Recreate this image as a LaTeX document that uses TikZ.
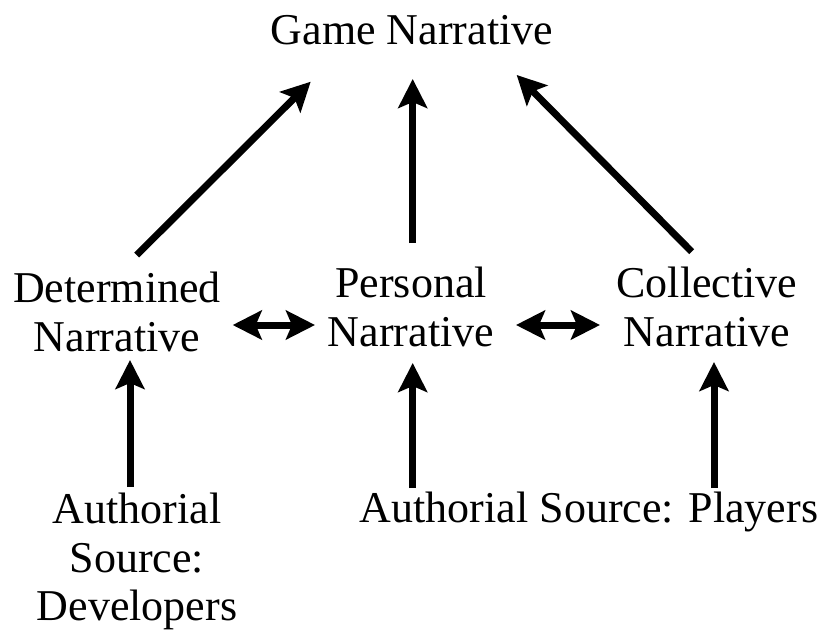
\documentclass[tikz,border=0pt]{standalone}
\usepackage{fontspec}
\setmainfont{Liberation Serif}
\usetikzlibrary{arrows.meta}
\begin{document}
\begin{tikzpicture}[x=1pt,y=-1pt,
  lbl/.style={inner sep=0pt,outer sep=0pt,anchor=north,align=center,font=\fontsize{44}{48.5}\selectfont},
  arr/.style={line width=7pt,-{Stealth[length=29pt,width=29pt,inset=6pt]}},
  darr/.style={line width=7pt,{Stealth[length=29pt,width=29pt,inset=6pt]}-{Stealth[length=29pt,width=29pt,inset=6pt]}}]
\useasboundingbox (0,0) rectangle (823,630);
\node[lbl] (game) at (412,15) {Game Narrative};
\node[lbl] (det) at (117,272) {Determined\\Narrative};
\node[lbl] (per) at (411,267) {Personal\\Narrative};
\node[lbl] (col) at (707,267) {Collective\\Narrative};
\node[lbl] (adev) at (137,493) {Authorial\\Source:\\Developers};
\node[lbl] (apl) at (589,492) {Authorial Source: Players};
\draw[arr] ([shift={(19.7,-17)}]det.north) -- ([shift={(-101.3,66.7)}]game.north);
\draw[arr] ([shift={(1.7,-24)}]per.north) -- ([shift={(0.7,64)}]game.north);
\draw[arr] ([shift={(-15.3,-15.3)}]col.north) -- ([shift={(104.7,60)}]game.north);
\draw[darr] ([shift={(115.7,53)}]det.north) -- ([shift={(-96,58)}]per.north);
\draw[darr] ([shift={(105,58)}]per.north) -- ([shift={(-107,58)}]col.north);
\draw[arr] ([shift={(-7,-6)}]adev.north) -- ([shift={(13,88)}]det.north);
\draw[arr] ([shift={(-176.3,-4)}]apl.north) -- ([shift={(1.7,96)}]per.north);
\draw[arr] ([shift={(125,-4)}]apl.north) -- ([shift={(7,95)}]col.north);
\end{tikzpicture}
\end{document}
